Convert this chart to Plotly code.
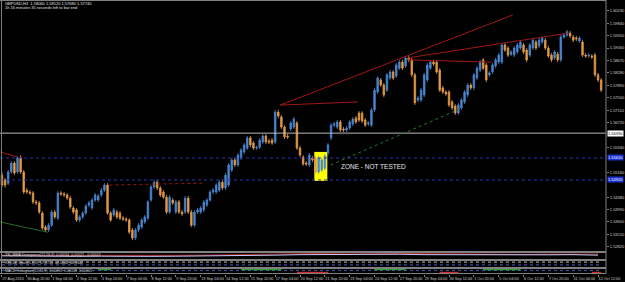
import plotly.graph_objects as go

# ---------------- data (GBPUSD, H4) ----------------
opens = [1.5507,1.5492,1.5482,1.5517,1.5545,1.5517,1.5561,1.5517,1.5460,1.5454,
1.5451,1.5423,1.5420,1.5388,1.5344,1.5335,1.5350,1.5391,1.5372,1.5451,
1.5448,1.5445,1.5435,1.5404,1.5398,1.5366,1.5376,1.5388,1.5413,1.5404,
1.5429,1.5429,1.5445,1.5460,1.5476,1.5388,1.5382,1.5391,1.5388,1.5372,
1.5369,1.5366,1.5335,1.5310,1.5335,1.5344,1.5360,1.5372,1.5429,1.5470,
1.5485,1.5467,1.5454,1.5438,1.5391,1.5429,1.5391,1.5423,1.5391,1.5391,
1.5435,1.5391,1.5350,1.5391,1.5391,1.5398,1.5413,1.5429,1.5454,1.5454,
1.5460,1.5485,1.5467,1.5476,1.5523,1.5555,1.5539,1.5561,1.5580,1.5592,
1.5624,1.5608,1.5592,1.5595,1.5611,1.5630,1.5614,1.5617,1.5611,1.5705,
1.5690,1.5658,1.5630,1.5652,1.5658,1.5671,1.5592,1.5564,1.5545,1.5539,
1.5561,1.5561,1.5517,1.5523,1.5529,1.5577,1.5624,1.5664,1.5658,1.5674,
1.5652,1.5649,1.5655,1.5668,1.5686,1.5702,1.5702,1.5680,1.5668,1.5664,
1.5712,1.5768,1.5806,1.5790,1.5774,1.5812,1.5831,1.5818,1.5843,1.5862,
1.5850,1.5875,1.5869,1.5822,1.5743,1.5743,1.5759,1.5806,1.5843,1.5862,
1.5862,1.5837,1.5781,1.5768,1.5768,1.5737,1.5724,1.5702,1.5718,1.5737,
1.5759,1.5790,1.5781,1.5812,1.5837,1.5869,1.5853,1.5822,1.5831,1.5850,
1.5862,1.5862,1.5916,1.5906,1.5887,1.5884,1.5894,1.5906,1.5916,1.5900,
1.5884,1.5906,1.5925,1.5913,1.5925,1.5931,1.5906,1.5884,1.5875,1.5887,
1.5869,1.5941,1.5947,1.5953,1.5941,1.5938,1.5928,1.5925,1.5884,1.5881,
1.5881,1.5884,1.5822,1.5806]
highs = [1.5517,1.5498,1.5523,1.5551,1.5551,1.5567,1.5570,1.5523,1.5467,1.5460,
1.5457,1.5429,1.5426,1.5394,1.5350,1.5357,1.5398,1.5398,1.5457,1.5457,
1.5454,1.5451,1.5442,1.5410,1.5404,1.5382,1.5394,1.5416,1.5426,1.5435,
1.5451,1.5448,1.5467,1.5482,1.5482,1.5394,1.5404,1.5398,1.5394,1.5379,
1.5376,1.5372,1.5341,1.5341,1.5357,1.5372,1.5382,1.5429,1.5476,1.5492,
1.5492,1.5473,1.5460,1.5445,1.5445,1.5435,1.5429,1.5429,1.5398,1.5442,
1.5442,1.5398,1.5398,1.5404,1.5410,1.5429,1.5435,1.5460,1.5467,1.5482,
1.5492,1.5492,1.5514,1.5545,1.5561,1.5561,1.5577,1.5592,1.5608,1.5630,
1.5630,1.5614,1.5599,1.5624,1.5636,1.5636,1.5621,1.5624,1.5712,1.5712,
1.5696,1.5664,1.5636,1.5677,1.5690,1.5677,1.5599,1.5570,1.5551,1.5577,
1.5567,1.5567,1.5567,1.5561,1.5573,1.5608,1.5671,1.5674,1.5680,1.5680,
1.5658,1.5661,1.5680,1.5690,1.5693,1.5708,1.5708,1.5686,1.5677,1.5718,
1.5781,1.5818,1.5812,1.5796,1.5828,1.5837,1.5837,1.5859,1.5869,1.5869,
1.5881,1.5884,1.5875,1.5828,1.5756,1.5781,1.5828,1.5859,1.5869,1.5869,
1.5869,1.5843,1.5787,1.5774,1.5774,1.5743,1.5730,1.5734,1.5749,1.5774,
1.5796,1.5796,1.5828,1.5850,1.5869,1.5875,1.5859,1.5834,1.5859,1.5875,
1.5891,1.5922,1.5922,1.5913,1.5900,1.5913,1.5922,1.5931,1.5922,1.5906,
1.5922,1.5938,1.5931,1.5938,1.5944,1.5938,1.5913,1.5891,1.5900,1.5894,
1.5947,1.5953,1.5963,1.5960,1.5947,1.5944,1.5944,1.5931,1.5891,1.5891,
1.5887,1.5891,1.5828,1.5812]
lows = [1.5470,1.5467,1.5476,1.5511,1.5507,1.5511,1.5511,1.5448,1.5448,1.5445,
1.5416,1.5413,1.5385,1.5335,1.5328,1.5328,1.5344,1.5369,1.5366,1.5442,
1.5438,1.5429,1.5401,1.5385,1.5360,1.5360,1.5369,1.5382,1.5407,1.5398,
1.5423,1.5423,1.5438,1.5454,1.5382,1.5360,1.5376,1.5369,1.5366,1.5363,
1.5360,1.5322,1.5303,1.5303,1.5328,1.5338,1.5354,1.5366,1.5423,1.5464,
1.5460,1.5438,1.5432,1.5385,1.5385,1.5413,1.5385,1.5385,1.5379,1.5385,
1.5385,1.5344,1.5344,1.5385,1.5385,1.5391,1.5407,1.5423,1.5448,1.5448,
1.5454,1.5460,1.5460,1.5470,1.5517,1.5533,1.5533,1.5555,1.5573,1.5586,
1.5595,1.5586,1.5586,1.5589,1.5605,1.5605,1.5605,1.5602,1.5605,1.5686,
1.5652,1.5621,1.5621,1.5646,1.5652,1.5586,1.5564,1.5536,1.5536,1.5533,
1.5548,1.5511,1.5511,1.5517,1.5523,1.5570,1.5617,1.5658,1.5652,1.5642,
1.5642,1.5642,1.5649,1.5661,1.5668,1.5674,1.5671,1.5658,1.5661,1.5658,
1.5705,1.5762,1.5784,1.5752,1.5768,1.5806,1.5806,1.5812,1.5837,1.5837,
1.5843,1.5862,1.5815,1.5727,1.5737,1.5737,1.5752,1.5799,1.5837,1.5850,
1.5825,1.5768,1.5762,1.5756,1.5721,1.5712,1.5696,1.5696,1.5712,1.5730,
1.5752,1.5774,1.5774,1.5806,1.5831,1.5837,1.5799,1.5815,1.5825,1.5843,
1.5856,1.5856,1.5894,1.5878,1.5881,1.5878,1.5887,1.5900,1.5887,1.5862,
1.5878,1.5900,1.5900,1.5906,1.5919,1.5900,1.5875,1.5862,1.5869,1.5862,
1.5862,1.5935,1.5941,1.5938,1.5925,1.5928,1.5922,1.5878,1.5875,1.5875,
1.5872,1.5815,1.5799,1.5768]
closes = [1.5476,1.5476,1.5517,1.5545,1.5514,1.5561,1.5517,1.5454,1.5454,1.5451,
1.5423,1.5420,1.5391,1.5341,1.5335,1.5350,1.5391,1.5376,1.5451,1.5448,
1.5445,1.5435,1.5407,1.5391,1.5366,1.5376,1.5388,1.5410,1.5420,1.5429,
1.5445,1.5442,1.5460,1.5476,1.5388,1.5366,1.5398,1.5376,1.5372,1.5369,
1.5366,1.5328,1.5310,1.5335,1.5350,1.5366,1.5376,1.5423,1.5470,1.5485,
1.5467,1.5445,1.5438,1.5391,1.5438,1.5420,1.5423,1.5391,1.5385,1.5435,
1.5391,1.5350,1.5391,1.5398,1.5404,1.5423,1.5429,1.5454,1.5460,1.5476,
1.5485,1.5467,1.5507,1.5539,1.5555,1.5539,1.5570,1.5586,1.5602,1.5624,
1.5602,1.5592,1.5595,1.5617,1.5630,1.5611,1.5611,1.5608,1.5705,1.5693,
1.5658,1.5627,1.5627,1.5671,1.5683,1.5592,1.5570,1.5542,1.5542,1.5570,
1.5555,1.5517,1.5561,1.5555,1.5567,1.5602,1.5664,1.5668,1.5674,1.5649,
1.5649,1.5655,1.5674,1.5683,1.5674,1.5680,1.5677,1.5664,1.5671,1.5712,
1.5774,1.5812,1.5790,1.5759,1.5822,1.5831,1.5812,1.5853,1.5862,1.5843,
1.5875,1.5869,1.5822,1.5734,1.5749,1.5774,1.5822,1.5853,1.5862,1.5856,
1.5831,1.5774,1.5768,1.5762,1.5727,1.5718,1.5702,1.5727,1.5743,1.5768,
1.5790,1.5781,1.5822,1.5843,1.5862,1.5843,1.5806,1.5828,1.5853,1.5869,
1.5884,1.5916,1.5900,1.5884,1.5894,1.5906,1.5916,1.5925,1.5894,1.5869,
1.5916,1.5931,1.5906,1.5931,1.5938,1.5906,1.5881,1.5869,1.5894,1.5869,
1.5941,1.5947,1.5957,1.5944,1.5931,1.5935,1.5938,1.5884,1.5881,1.5884,
1.5878,1.5822,1.5806,1.5774]
bars = list(range(len(closes)))

date_label_bars = [0, 8, 16, 24, 32, 40, 48, 56, 64, 72, 80, 88, 96, 104, 112,
                   120, 128, 136, 144, 152, 160, 168, 176, 184, 192]
date_labels = ["27 Aug 2010", "30 Aug 20:00", "1 Sep 04:00", "2 Sep 12:00", "3 Sep 20:00",
               "7 Sep 04:00", "8 Sep 12:00", "9 Sep 20:00", "13 Sep 04:00", "14 Sep 12:00",
               "15 Sep 20:00", "17 Sep 04:00", "20 Sep 12:00", "21 Sep 20:00", "23 Sep 04:00",
               "24 Sep 12:00", "27 Sep 20:00", "29 Sep 04:00", "30 Sep 12:00", "1 Oct 20:00",
               "5 Oct 04:00", "6 Oct 12:00", "7 Oct 20:00", "11 Oct 04:00", "12 Oct 12:00"]

# right-axis labels (those hidden under the line price boxes are left out)
price_ticks = [1.6023, 1.5984, 1.5945, 1.5906, 1.5867, 1.5828, 1.5789, 1.5750, 1.5711, 1.5672,
               1.5594, 1.5516, 1.5438, 1.5399, 1.5360, 1.5321, 1.5282]
price_tick_labels = ["1.60230", "1.59840", "1.59450", "1.59060", "1.58670", "1.58280", "1.57890",
                     "1.57500", "1.57110", "1.56720", "1.55940", "1.55160",
                     "1.54380", "1.53990", "1.53600", "1.53210", "1.52820"]

hline_price = 1.5639
hline_label = "1.56390"
zone_prices = [1.5561, 1.5492]
zone_labels = ["1.55610", "1.54920"]
zone_box_bars = [100.6, 104.8]
zone_box_prices = [1.5580, 1.5489]
zone_text_pos = [108.5, 1.5534]

red_trend_lines = [[(89.6, 1.5727), (164.5, 1.6010)],
                   [(89.6, 1.5727), (114.6, 1.5737)],
                   [(130.6, 1.5875), (182.4, 1.5953)],
                   [(130.6, 1.5869), (157.8, 1.5862)],
                   [(-0.6, 1.5580), (5.1, 1.5564)]]
red_dotted_lines = [[(34.6, 1.5476), (65.0, 1.5482)]]
green_lines = [[(-0.6, 1.5360), (14.7, 1.5328)]]
green_dotted_lines = [[(105.9, 1.5539), (148.2, 1.5718)]]

# indicator sub-windows (sampled every 8 bars)
sub_bars = date_label_bars
sub1_white = [0.45, 0.40, 0.35, 0.38, 0.40, 0.35, 0.38, 0.40, 0.42, 0.45, 0.48, 0.55, 0.62,
              0.65, 0.68, 0.70, 0.68, 0.62, 0.60, 0.58, 0.55, 0.58, 0.60, 0.62, 0.55]
sub1_red = [0.55, 0.50, 0.48, 0.50, 0.52, 0.50, 0.50, 0.52, 0.55, 0.60, 0.68, 0.78, 0.85,
            0.88, 0.85, 0.82, 0.78, 0.72, 0.68, 0.66, 0.65, 0.66, 0.70, 0.72, 0.70]
sub2_levels = [0.7, 0.3]
sub3_level = 0.6
sub3_up_segments = [(31, 35), (77, 90), (120, 130), (155, 167)]
sub3_down_segments = [(95, 105), (141, 147), (190, 193)]

# ---------------- figure ----------------
W, H = 625, 282
ML, MR, MT, MB = 0, 15, 0, 8
PH = H - MT - MB
PW = W - ML - MR

def pdom(top_px, bot_px):
    return [(PH - bot_px) / PH, (PH - top_px) / PH]

GRAY = "#808080"
TXT = "#d0d0d0"
UP = "#4a86d0"
DN = "#e39a48"
FONT = "Liberation Sans"

fig = go.Figure()
fig.add_trace(go.Candlestick(
    x=bars, open=opens, high=highs, low=lows, close=closes,
    increasing=dict(line=dict(color=UP, width=0.8), fillcolor=UP),
    decreasing=dict(line=dict(color=DN, width=0.8), fillcolor=DN),
    whiskerwidth=0, xaxis="x", yaxis="y", showlegend=False, hoverinfo="skip"))

# sub window 1
fig.add_trace(go.Scatter(x=sub_bars, y=sub1_red, mode="lines", line=dict(color="#b02020", width=1),
                         xaxis="x2", yaxis="y2", showlegend=False, hoverinfo="skip"))
fig.add_trace(go.Scatter(x=sub_bars, y=sub1_white, mode="lines", line=dict(color="#c8d0ff", width=1),
                         xaxis="x2", yaxis="y2", showlegend=False, hoverinfo="skip"))
# sub window 2
for lv, col in zip(sub2_levels, ["#c0c0c0", "#4060c0"]):
    fig.add_trace(go.Scatter(x=[bars[0], bars[-1]], y=[lv, lv], mode="lines",
                             line=dict(color=col, width=1, dash="dot"),
                             xaxis="x3", yaxis="y3", showlegend=False, hoverinfo="skip"))
# sub window 3
fig.add_trace(go.Scatter(x=[bars[0], bars[-1]], y=[sub3_level, sub3_level], mode="lines",
                         line=dict(color="#4060c0", width=1, dash="dot"),
                         xaxis="x4", yaxis="y4", showlegend=False, hoverinfo="skip"))
for a, b in sub3_up_segments:
    fig.add_trace(go.Scatter(x=[a, b], y=[0.8, 0.8], mode="lines", line=dict(color="#30a030", width=2),
                             xaxis="x4", yaxis="y4", showlegend=False, hoverinfo="skip"))
for a, b in sub3_down_segments:
    fig.add_trace(go.Scatter(x=[a, b], y=[0.2, 0.2], mode="lines", line=dict(color="#d03030", width=2),
                             xaxis="x4", yaxis="y4", showlegend=False, hoverinfo="skip"))

shapes = []
# zone box (yellow, behind bars)
shapes.append(dict(type="rect", xref="x", yref="y", x0=zone_box_bars[0], x1=zone_box_bars[1],
                   y0=zone_box_prices[1], y1=zone_box_prices[0], fillcolor="#ffff00",
                   line=dict(width=0), layer="below"))
# horizontal line
shapes.append(dict(type="line", xref="paper", yref="y", x0=0, x1=1, y0=hline_price, y1=hline_price,
                   line=dict(color="#b8b8b8", width=1)))
for zp in zone_prices:
    shapes.append(dict(type="line", xref="paper", yref="y", x0=0, x1=1, y0=zp, y1=zp,
                       line=dict(color="#2838b0", width=1, dash="dot")))
for (p0, p1) in red_trend_lines:
    shapes.append(dict(type="line", xref="x", yref="y", x0=p0[0], y0=p0[1], x1=p1[0], y1=p1[1],
                       line=dict(color="#a01818", width=1)))
for (p0, p1) in red_dotted_lines:
    shapes.append(dict(type="line", xref="x", yref="y", x0=p0[0], y0=p0[1], x1=p1[0], y1=p1[1],
                       line=dict(color="#901818", width=1, dash="dot")))
for (p0, p1) in green_lines:
    shapes.append(dict(type="line", xref="x", yref="y", x0=p0[0], y0=p0[1], x1=p1[0], y1=p1[1],
                       line=dict(color="#2a6a2a", width=1)))
for (p0, p1) in green_dotted_lines:
    shapes.append(dict(type="line", xref="x", yref="y", x0=p0[0], y0=p0[1], x1=p1[0], y1=p1[1],
                       line=dict(color="#2a7a2a", width=1, dash="dot")))
# window frame lines
for py in [0.5, 251.5, 252.5, 259.5, 260.5, 267.5, 268.5, 273.5]:
    yy = (PH - py) / PH
    shapes.append(dict(type="line", xref="paper", yref="paper", x0=0, x1=1, y0=yy, y1=yy,
                       line=dict(color=GRAY, width=1)))
shapes.append(dict(type="line", xref="paper", yref="paper", x0=1.5 / PW, x1=1.5 / PW, y0=0, y1=1,
                   line=dict(color=GRAY, width=1)))
shapes.append(dict(type="line", xref="paper", yref="paper", x0=1, x1=1, y0=0, y1=1,
                   line=dict(color=GRAY, width=1)))

ann = []
ann.append(dict(xref="paper", yref="paper", x=3 / PW, y=(PH - 4) / PH, xanchor="left", yanchor="middle",
                text="GBPUSD,H4  1.58060 1.58120 1.57680 1.57740", showarrow=False,
                font=dict(size=4, color="#e0e0e0", family=FONT)))
ann.append(dict(xref="paper", yref="paper", x=3 / PW, y=(PH - 8) / PH, xanchor="left", yanchor="middle",
                text="1h 16 minutes 35 seconds left to bar end", showarrow=False,
                font=dict(size=4, color="#e0e0e0", family=FONT)))
ann.append(dict(xref="x", yref="y", x=zone_text_pos[0], y=zone_text_pos[1], xanchor="left", yanchor="middle",
                text="ZONE - NOT TESTED", showarrow=False,
                font=dict(size=6.5, color="#e8e8e8", family=FONT)))
# axis price labels for drawn lines
ann.append(dict(xref="paper", yref="y", x=1, y=hline_price, xanchor="left", yanchor="middle", xshift=1,
                text=hline_label, showarrow=False, bgcolor="#ffffff", borderpad=0,
                font=dict(size=4, color="#000000", family=FONT)))
for zp, zt in zip(zone_prices, zone_labels):
    ann.append(dict(xref="paper", yref="y", x=1, y=zp, xanchor="left", yanchor="middle", xshift=1,
                    text=zt, showarrow=False, bgcolor="#1a30d0", borderpad=0,
                    font=dict(size=4, color="#ffffff", family=FONT)))
# sub-window captions
for py, t in [(255, "TSI_MMA Divergence(12,26,9)  0.00034  0.00021  -0.00013"),
              (263, "RSI(14) Stoch(5,3,3)  57.2710  62.0148  48.3302"),
              (271, "MACD Histogram(12,26,9)  0.00092  0.00118  0.00105")]:
    ann.append(dict(xref="paper", yref="paper", x=3 / PW, y=(PH - py) / PH, xanchor="left", yanchor="middle",
                    text=t, showarrow=False, font=dict(size=3.6, color="#d8d8d8", family=FONT)))

xr = [-0.64, 194.56]
base_x = dict(range=xr, showgrid=False, zeroline=False, showline=False, fixedrange=True)
base_y = dict(showgrid=False, zeroline=False, showline=False, fixedrange=True)

fig.update_layout(
    width=W, height=H, margin=dict(l=ML, r=MR, t=MT, b=MB, pad=0),
    paper_bgcolor="#000000", plot_bgcolor="#000000", showlegend=False,
    xaxis=dict(**base_x, anchor="y", showticklabels=False, rangeslider=dict(visible=False)),
    yaxis=dict(**base_y, domain=pdom(0, 251), range=[1.52689, 1.6057], side="right", anchor="x",
               tickvals=price_ticks, ticktext=price_tick_labels, ticks="outside", ticklen=2,
               tickcolor=GRAY, tickfont=dict(size=4, color=TXT, family=FONT)),
    xaxis2=dict(**base_x, anchor="y2", matches="x", showticklabels=False),
    yaxis2=dict(**base_y, domain=pdom(252, 259), range=[0, 1], side="right", anchor="x2",
                showticklabels=False),
    xaxis3=dict(**base_x, anchor="y3", matches="x", showticklabels=False),
    yaxis3=dict(**base_y, domain=pdom(260, 267), range=[0, 1], side="right", anchor="x3",
                showticklabels=False),
    xaxis4=dict(**base_x, anchor="y4", matches="x", tickvals=date_label_bars, ticktext=date_labels,
                ticks="outside", ticklen=2, tickcolor=GRAY, ticklabelposition="outside right",
                tickangle=0, ticklabelstandoff=0,
                tickfont=dict(size=3.8, color=TXT, family=FONT)),
    yaxis4=dict(**base_y, domain=pdom(268, 274), range=[0, 1], side="right", anchor="x4",
                showticklabels=False),
    shapes=shapes, annotations=ann,
)

fig.write_html("out.html")
